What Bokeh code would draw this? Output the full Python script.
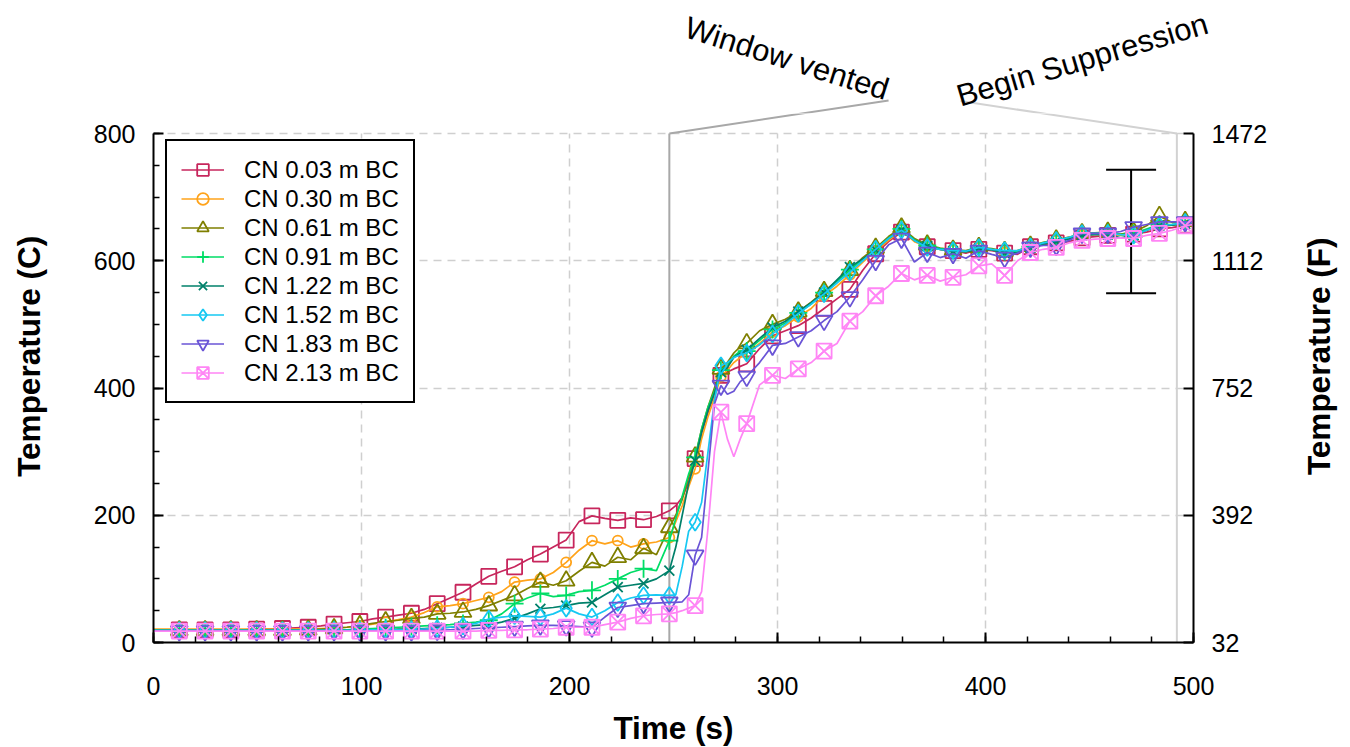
import numpy as np
from bokeh.plotting import figure
from bokeh.layouts import column, row
from bokeh.models import (Range1d, LinearAxis, FixedTicker, SingleIntervalTicker, Legend,
                          LegendItem, Label, Whisker, ColumnDataSource, TeeHead)
from bokeh.embed import file_html
from bokeh.resources import INLINE

FONT = "Liberation Sans"

# Sample times (s)
TIME = [
    0.0, 6.2, 12.4, 18.6, 24.8, 31.0, 37.2, 43.4, 49.6, 55.8,
    62.0, 68.2, 74.4, 80.6, 86.8, 93.0, 99.2, 105.4, 111.6, 117.8,
    124.0, 130.2, 136.4, 142.6, 148.8, 155.0, 161.2, 167.4, 173.6, 179.8,
    186.0, 192.2, 198.4, 204.6, 210.8, 217.0, 223.2, 229.4, 235.6, 241.8,
    248.0, 251.1, 254.2, 257.3, 260.4, 263.5, 266.6, 269.7, 272.8, 275.9,
    279.0, 282.1, 285.2, 291.4, 297.6, 303.8, 310.0, 316.2, 322.4, 328.6,
    334.8, 341.0, 347.2, 353.4, 359.6, 365.8, 372.0, 378.2, 384.4, 390.6,
    396.8, 403.0, 409.2, 415.4, 421.6, 427.8, 434.0, 440.2, 446.4, 452.6,
    458.8, 465.0, 471.2, 477.4, 483.6, 489.8, 496.0, 500.0,
]

# Times carrying a symbol (every 12.4 s)
MARK_TIME = [12.4, 24.8, 37.2, 49.6, 62.0, 74.4, 86.8, 99.2, 111.6, 124.0,
             136.4, 148.8, 161.2, 173.6, 186.0, 198.4, 210.8, 223.2, 235.6, 248.0,
             260.4, 272.8, 285.2, 297.6, 310.0, 322.4, 334.8, 347.2, 359.6, 372.0,
             384.4, 396.8, 409.2, 421.6, 434.0, 446.4, 458.8, 471.2, 483.6, 496.0]

# Temperatures (C) at each thermocouple height
CN_003 = [20, 20, 20, 20, 20, 20, 20, 20, 21, 21,
          22, 23, 24, 26, 29, 31, 33, 37, 40, 43,
          46, 52, 61, 70, 79, 92, 104, 112, 119, 130,
          139, 150, 161, 190, 199, 195, 192, 196, 193, 198,
          207, 215, 228, 252, 289, 330, 362, 392, 420, 425,
          430, 434, 438, 462, 482, 490, 498, 510, 525, 540,
          555, 585, 611, 630, 645, 632, 622, 618, 616, 612,
          618, 616, 612, 610, 622, 625, 628, 630, 636, 638,
          640, 641, 642, 645, 650, 652, 656, 658]
CN_030 = [21, 21, 21, 21, 21, 21, 21, 21, 21, 21,
          21, 21, 22, 22, 23, 24, 26, 29, 32, 36,
          40, 47, 56, 58, 61, 66, 71, 80, 95, 98,
          100, 110, 126, 145, 160, 155, 160, 150, 155, 158,
          165, 190, 215, 245, 273, 320, 355, 385, 418, 428,
          440, 448, 455, 470, 488, 498, 512, 525, 545, 560,
          578, 598, 615, 632, 648, 630, 622, 618, 616, 614,
          620, 617, 613, 614, 621, 627, 631, 635, 640, 641,
          642, 640, 642, 648, 654, 656, 659, 661]
CN_061 = [19, 19, 19, 19, 19, 19, 19, 19, 19, 19,
          19, 19, 20, 21, 22, 24, 27, 30, 33, 35,
          38, 40, 45, 46, 48, 52, 58, 66, 74, 85,
          95, 90, 97, 112, 126, 120, 134, 130, 148, 138,
          181, 200, 225, 260, 292, 335, 370, 400, 430, 440,
          455, 465, 470, 490, 500, 508, 520, 535, 552, 568,
          585, 605, 620, 638, 652, 635, 625, 620, 617, 616,
          621, 619, 615, 616, 623, 629, 633, 637, 643, 644,
          645, 642, 645, 655, 670, 660, 662, 665]
CN_091 = [19, 19, 19, 19, 19, 19, 19, 19, 19, 19,
          19, 19, 19, 19, 20, 20, 21, 22, 23, 24,
          25, 26, 27, 28, 30, 32, 35, 45, 61, 70,
          77, 72, 74, 80, 82, 90, 100, 110, 116, 113,
          160, 195, 230, 265, 291, 335, 370, 395, 428, 435,
          450, 458, 458, 475, 492, 502, 518, 532, 550, 568,
          586, 602, 618, 636, 650, 633, 624, 619, 616, 615,
          620, 618, 614, 615, 622, 628, 632, 636, 642, 643,
          644, 641, 643, 650, 657, 657, 660, 663]
CN_122 = [19, 19, 19, 19, 19, 19, 19, 19, 19, 19,
          19, 19, 19, 19, 19, 19, 20, 20, 20, 21,
          21, 22, 23, 24, 25, 27, 28, 32, 38, 45,
          53, 55, 58, 62, 63, 75, 87, 90, 93, 100,
          113, 150, 200, 250, 286, 330, 365, 392, 425, 432,
          448, 455, 460, 478, 495, 505, 520, 534, 550, 570,
          590, 603, 617, 635, 648, 632, 623, 618, 615, 614,
          619, 617, 612, 613, 620, 626, 630, 634, 640, 641,
          641, 636, 640, 648, 655, 656, 658, 661]
CN_152 = [19, 19, 19, 19, 19, 19, 19, 19, 19, 19,
          19, 19, 19, 19, 19, 19, 19, 20, 20, 20,
          20, 21, 22, 24, 26, 30, 37, 40, 42, 41,
          40, 45, 54, 45, 40, 50, 63, 70, 74, 75,
          74, 75, 120, 175, 189, 220, 300, 380, 435, 440,
          448, 452, 455, 468, 485, 500, 517, 532, 548, 565,
          582, 600, 618, 635, 648, 632, 621, 618, 616, 615,
          621, 618, 616, 616, 622, 628, 632, 637, 643, 643,
          643, 641, 640, 648, 655, 657, 660, 662]
CN_183 = [18, 18, 18, 18, 18, 18, 18, 18, 18, 18,
          18, 18, 18, 18, 18, 18, 18, 18, 18, 18,
          18, 19, 19, 20, 21, 22, 23, 24, 25, 26,
          27, 27, 26, 25, 24, 40, 55, 58, 61, 62,
          63, 63, 64, 75, 137, 165, 270, 375, 404, 390,
          395, 410, 418, 440, 467, 470, 480, 490, 506, 520,
          543, 570, 600, 625, 635, 598, 613, 605, 611, 604,
          616, 610, 605, 612, 621, 624, 624, 632, 643, 643,
          643, 646, 653, 657, 661, 661, 661, 662]
CN_213 = [18, 18, 18, 18, 18, 18, 18, 18, 18, 18,
          18, 18, 18, 18, 18, 18, 18, 18, 18, 18,
          18, 18, 18, 18, 18, 18, 19, 19, 20, 20,
          21, 22, 24, 24, 24, 28, 32, 38, 42, 44,
          45, 47, 50, 54, 58, 80, 180, 300, 362, 320,
          292, 320, 344, 405, 420, 415, 430, 440, 458, 470,
          505, 520, 545, 560, 580, 570, 577, 568, 574, 578,
          592, 595, 577, 600, 613, 618, 621, 628, 632, 634,
          635, 636, 635, 640, 643, 648, 655, 657]

SERIES = [CN_003, CN_030, CN_061, CN_091, CN_122, CN_152, CN_183, CN_213]
LABELS = ["CN 0.03 m BC", "CN 0.30 m BC", "CN 0.61 m BC", "CN 0.91 m BC",
          "CN 1.22 m BC", "CN 1.52 m BC", "CN 1.83 m BC", "CN 2.13 m BC"]
COLORS = ["#C7265C", "#FFA31A", "#7F7F00", "#00DD66",
          "#00806A", "#16C8F2", "#6A54D6", "#FF85F5"]
MARKERS = ["square", "circle", "triangle", "cross", "x", "diamond", "inverted_triangle", "square_x"]
SIZES = [15, 10, 17, 18, 14, 17, 17, 15]

# Event annotations: time, text, connector end (label side) and label centre
EVENT_T = [248.0, 492.0]
EVENT_TEXT = ["Window vented", "Begin Suppression"]
EVENT_COLORS = ["#A8A8A8", "#D2D2D2"]
EVENT_LEADER_X = [353.4, 388.0]
EVENT_LEADER_Y = [852.0, 851.0]
EVENT_LABEL_X = [304.5, 446.5]
EVENT_LABEL_Y = [918.0, 916.0]
EVENT_ANGLE = [-17.5, 16.5]

# Measurement uncertainty bar
ERR_T = [470.0]
ERR_MID = [646.0]
ERR_HALF = [97.0]

# Axis ticks
X_TICKS = [0, 100, 200, 300, 400, 500]
C_TICKS = [0, 200, 400, 600, 800]
F_TICKS = [32, 392, 752, 1112, 1472]

for s in SERIES:
    if len(s) != len(TIME):
        raise ValueError("series length mismatch")

# ---- page geometry (pixels) ----
PAGE_W, PAGE_H = 1350, 747
FRAME_L, FRAME_R = 153, 1193     # x = 0 s and x = 500 s
FRAME_T, FRAME_B = 133, 642      # y = 800 C and y = 0 C
TOP_H = 113                      # strip above: event notes
BOT_H = 36                       # strip below: x title
LEFT_W = 62                      # strip left: C title
RIGHT_W = 67                     # strip right: F title
MID_H = PAGE_H - TOP_H - BOT_H
MAIN_W = PAGE_W - LEFT_W - RIGHT_W

PX_S = (FRAME_R - FRAME_L) / (X_TICKS[-1] - X_TICKS[0])
PX_C = (FRAME_B - FRAME_T) / (C_TICKS[-1] - C_TICKS[0])
C_TOP = C_TICKS[-1] + (FRAME_T - TOP_H) / PX_C      # value at the top of the main frame


def f_of_c(c):
    return 32 + 1.8 * c


def strip(width, height, xr, yr):
    f = figure(width=width, height=height, x_range=xr, y_range=yr,
               output_backend="svg", toolbar_location=None, min_border=0,
               x_axis_type=None, y_axis_type=None)
    f.outline_line_color = None
    f.xgrid.visible = False
    f.ygrid.visible = False
    return f


# ---- main plot ----
p = figure(width=MAIN_W, height=MID_H,
           x_range=Range1d(X_TICKS[0], X_TICKS[-1]), y_range=Range1d(C_TICKS[0], C_TOP),
           output_backend="svg", toolbar_location=None,
           min_border_left=FRAME_L - LEFT_W, min_border_right=PAGE_W - RIGHT_W - FRAME_R,
           min_border_top=0, min_border_bottom=TOP_H + MID_H - FRAME_B)
p.outline_line_color = None

p.extra_y_ranges = {"F": Range1d(f_of_c(C_TICKS[0]), f_of_c(C_TOP))}
right_axis = LinearAxis(y_range_name="F", ticker=FixedTicker(ticks=F_TICKS),
                        bounds=(F_TICKS[0], F_TICKS[-1]))
p.add_layout(right_axis, "right")

p.xaxis.ticker = SingleIntervalTicker(interval=100, num_minor_ticks=5)
p.xaxis.bounds = (X_TICKS[0], X_TICKS[-1])
p.yaxis[0].ticker = SingleIntervalTicker(interval=200, num_minor_ticks=4)
p.yaxis[0].bounds = (C_TICKS[0], C_TICKS[-1])

GRID = dict(line_color="#CFCFCF", line_dash="8 6", line_width=1.5)
p.xgrid.visible = False
p.ygrid[0].bounds = (C_TICKS[0], C_TICKS[-1])
p.ygrid[0].grid_line_color = GRID["line_color"]
p.ygrid[0].grid_line_dash = GRID["line_dash"]
p.ygrid[0].grid_line_width = GRID["line_width"]
# vertical gridlines stop at the top of the temperature scale
inner_x = X_TICKS[1:-1]
p.segment(x0=inner_x, y0=[C_TICKS[0]] * len(inner_x), x1=inner_x,
          y1=[C_TICKS[-1]] * len(inner_x), **GRID)

for ax in (p.xaxis[0], p.yaxis[0], right_axis):
    ax.axis_line_width = 2
    ax.axis_line_color = "black"
    ax.major_tick_line_width = 2
    ax.major_tick_in = 10
    ax.major_tick_out = 0
    ax.minor_tick_line_width = 1.5
    ax.minor_tick_in = 6
    ax.minor_tick_out = 0
    ax.major_label_text_font = FONT
    ax.major_label_text_font_size = "25px"
    ax.major_label_text_color = "black"
    ax.major_label_standoff = 18
right_axis.minor_tick_line_color = None
p.xaxis.major_label_standoff = 34

# vertical event markers and the start of their leader lines
p.segment(x0=EVENT_T, y0=[C_TICKS[0]] * 2, x1=EVENT_T, y1=[C_TICKS[-1]] * 2,
          line_color=EVENT_COLORS, line_width=2)
LEAD = dict(x0=[EVENT_T[0], EVENT_LEADER_X[1]], y0=[C_TICKS[-1], EVENT_LEADER_Y[1]],
            x1=[EVENT_LEADER_X[0], EVENT_T[1]], y1=[EVENT_LEADER_Y[0], C_TICKS[-1]],
            line_color=EVENT_COLORS, line_width=2)
p.segment(**LEAD)

# data curves
t_arr = np.array(TIME)
mask = np.isin(np.round(t_arr, 1), np.round(MARK_TIME, 1))
items = []
for vals, lab, col, mk, sz in zip(SERIES, LABELS, COLORS, MARKERS, SIZES):
    v = np.array(vals, dtype=float)
    lr = p.line(t_arr, v, line_color=col, line_width=1.7)
    sr = p.scatter(t_arr[mask], v[mask], marker=mk, size=sz, line_color=col,
                   fill_color=None, line_width=1.8)
    items.append(LegendItem(label=lab, renderers=[lr, sr]))

# uncertainty whisker
err_src = ColumnDataSource(dict(t=ERR_T,
                                lo=[m - h for m, h in zip(ERR_MID, ERR_HALF)],
                                hi=[m + h for m, h in zip(ERR_MID, ERR_HALF)]))
p.add_layout(Whisker(source=err_src, base="t", lower="lo", upper="hi", dimension="height",
                     line_color="black", line_width=2,
                     upper_head=TeeHead(size=50, line_width=2, line_color="black"),
                     lower_head=TeeHead(size=50, line_width=2, line_color="black")))

legend = Legend(items=items, location=(12, 239), padding=14, spacing=0,
                glyph_width=43, glyph_height=29, label_height=29, label_standoff=20,
                label_text_font=FONT, label_text_font_size="24px", label_text_color="black",
                border_line_color="black", border_line_width=2, border_line_alpha=1.0,
                background_fill_color="white", background_fill_alpha=1.0)
p.add_layout(legend)

TITLE = dict(text_font=FONT, text_font_size="31.5px", text_font_style="bold",
             text_color="black", text_align="center", text_baseline="middle")

# ---- strip above: event notes on the same data scales ----
top = strip(PAGE_W, TOP_H,
            Range1d(-FRAME_L / PX_S, (PAGE_W - FRAME_L) / PX_S),
            Range1d(C_TOP, C_TOP + TOP_H / PX_C))
top.segment(**LEAD)
for tx, lx, ly, ang in zip(EVENT_TEXT, EVENT_LABEL_X, EVENT_LABEL_Y, EVENT_ANGLE):
    top.add_layout(Label(x=lx, y=ly, text=tx, angle=ang, angle_units="deg",
                         text_align="center", text_baseline="middle", text_font=FONT,
                         text_font_size="31px", text_color="black"))

# ---- side strips: axis titles ----
mid_c = MID_H - ((FRAME_T + FRAME_B) / 2 - TOP_H)
left = strip(LEFT_W, MID_H, Range1d(0, LEFT_W), Range1d(0, MID_H))
left.add_layout(Label(x=28, y=mid_c, text="Temperature (C)", angle=90, angle_units="deg",
                      **TITLE))
right = strip(RIGHT_W, MID_H, Range1d(0, RIGHT_W), Range1d(0, MID_H))
right.add_layout(Label(x=1318 - (PAGE_W - RIGHT_W), y=mid_c, text="Temperature (F)",
                       angle=90, angle_units="deg", **TITLE))
bottom = strip(PAGE_W, BOT_H, Range1d(0, PAGE_W), Range1d(0, BOT_H))
bottom.add_layout(Label(x=(FRAME_L + FRAME_R) / 2, y=PAGE_H - 727, text="Time (s)", **TITLE))

layout = column(top, row(left, p, right, spacing=0), bottom, spacing=0)
open("out.html", "w").write(file_html(layout, INLINE))
